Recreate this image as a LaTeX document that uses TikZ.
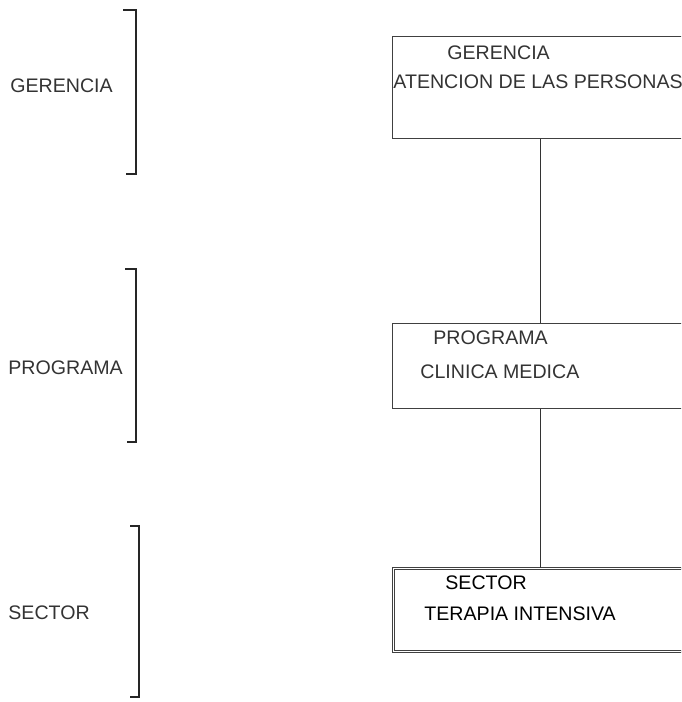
\documentclass[tikz,border=0pt]{standalone}
\usepackage{fontspec}
\setmainfont{Liberation Sans}
\usetikzlibrary{positioning}
\tikzset{
    caja/.style={
           rectangle,
           draw=black!75, thin,
           anchor=north west,
           inner sep=0pt},
    rotulo/.style={
           anchor=west,
           inner sep=0pt,
           text=black!80,
           font=\fontsize{9.8}{11}\selectfont},
    llave/.style={
           draw=black!85,
           line width=0.6pt},
    linea/.style={
           draw=black!80,
           thin}
}
\begin{document}
\begin{tikzpicture}[x=0.5pt, y=-0.5pt]
        \useasboundingbox (0,0) rectangle (681,702);
        \clip (0,0) rectangle (681,702);

        % niveles
        \draw[llave] (123,10) -- (136,10) -- (136,174) -- (126,174);
        \draw[llave] (125,269) -- (136,269) -- (136,442) -- (127,442);
        \draw[llave] (130,526) -- (139,526) -- (139,697) -- (130,697);
        \node[rotulo] (lger) at (10,86) {GERENCIA};
        \node[rotulo] (lprog) at (8,368) {PROGRAMA};
        \node[rotulo] (lsec) at (8,613) {SECTOR};

        % cajas
        \node[caja, minimum width=148pt, minimum height=51pt] (ger) at (392,36) {};
        \node[caja, minimum width=148pt, minimum height=42.5pt] (prog) at (392,323) {};
        \node[caja, double, double distance=0.8pt, minimum width=147pt, minimum height=41.5pt] (sec) at (393,568) {};

        \node[rotulo] (tger) at (447,53) {GERENCIA};
        \node[rotulo] (tger2) at (393,82) {ATENCION DE LAS PERSONAS};
        \node[rotulo] (tprog) at (433,338) {PROGRAMA};
        \node[rotulo] (tprog2) at (420,372) {CLINICA MEDICA};
        \node[rotulo, text=black] (tsec) at (445,583) {SECTOR};
        \node[rotulo, text=black] (tsec2) at (424,614) {TERAPIA INTENSIVA};

        \draw[linea] (ger) -- (prog);
        \draw[linea] (prog) -- (sec);

    \end{tikzpicture}
\end{document}
